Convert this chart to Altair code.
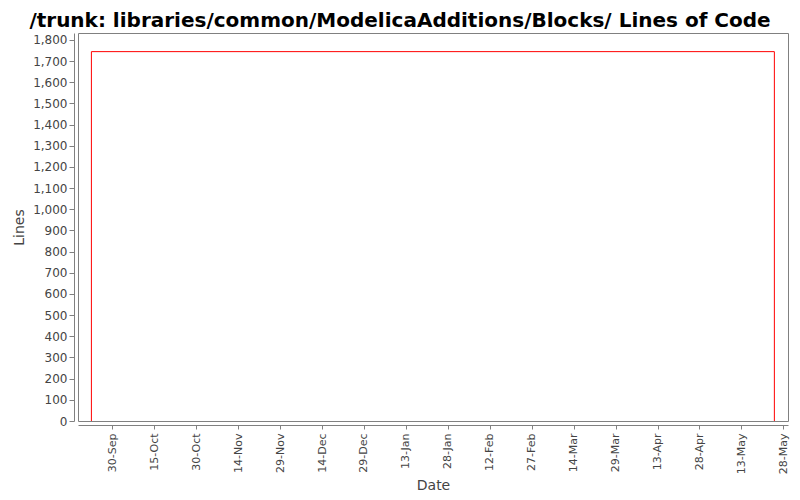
import altair as alt
import pandas as pd

TITLE = "/trunk: libraries/common/ModelicaAdditions/Blocks/ Lines of Code"

# line of code history (step line)
dates = ["2006-09-22T12:00:00", "2006-09-22T12:00:00", "2007-05-24T19:00:00", "2007-05-24T19:00:00"]
lines = [0, 1745, 1745, 0]

# tick labels on the date axis, every 15 days
tick_dates = [
    (2006, 9, 30), (2006, 10, 15), (2006, 10, 30), (2006, 11, 14), (2006, 11, 29),
    (2006, 12, 14), (2006, 12, 29), (2007, 1, 13), (2007, 1, 28), (2007, 2, 12),
    (2007, 2, 27), (2007, 3, 14), (2007, 3, 29), (2007, 4, 13), (2007, 4, 28),
    (2007, 5, 13), (2007, 5, 28),
]
y_ticks = list(range(0, 1900, 100))

FONT = "DejaVu Sans"
GREY = "#808080"
LABEL = "#444444"


def dt(y, m, d, h=0):
    return alt.DateTime(year=y, month=m, date=d, hours=h)


data = pd.DataFrame({"date": dates, "lines": lines, "step": range(len(dates))})

chart = (
    alt.Chart(data)
    .mark_line(color="#ff0000", strokeWidth=1, clip=True)
    .encode(
        x=alt.X(
            "date:T",
            title="Date",
            scale=alt.Scale(domain=[dt(2006, 9, 17, 17), dt(2007, 5, 29, 16)], nice=False),
            axis=alt.Axis(
                values=[dt(*d) for d in tick_dates],
                format="%d-%b",
                labelAngle=-90,
                labelPadding=4,
                titlePadding=5,
                offset=4,
            ),
        ),
        y=alt.Y(
            "lines:Q",
            title="Lines",
            scale=alt.Scale(domain=[0, 1833], nice=False, zero=True),
            axis=alt.Axis(values=y_ticks, format=",d", labelPadding=2, offset=4, titlePadding=6),
        ),
        order="step:Q",
    )
    .properties(
        width=710,
        height=388,
        autosize=alt.AutoSizeParams(type="none"),
        padding={"left": 70, "top": 25, "right": 4, "bottom": 71},
        title=alt.TitleParams(
            TITLE,
            font=FONT,
            fontSize=20,
            fontWeight="bold",
            color="#000000",
            anchor="middle",
            baseline="alphabetic",
            offset=-14,
            dx=-33,
        ),
    )
    .configure_view(stroke=GREY, strokeWidth=1)
    .configure_axis(
        grid=False,
        domainColor=GREY,
        tickColor=GREY,
        tickSize=5,
        labelFont=FONT,
        labelFontSize=12,
        labelColor=LABEL,
        titleFont=FONT,
        titleFontSize=14,
        titleFontWeight="normal",
        titleColor=LABEL,
    )
    .configure_axisX(labelFontSize=11, tickSize=4)
)

chart.save("out.html", embed_options={"renderer": "svg", "actions": False})
